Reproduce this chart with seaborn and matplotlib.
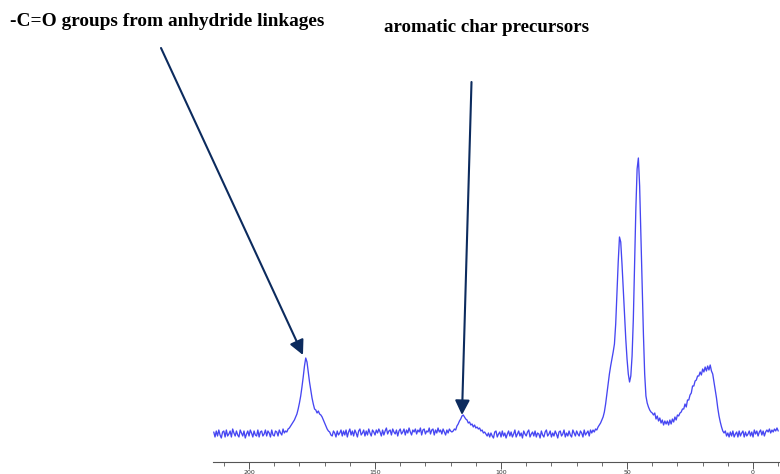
import numpy as np
import pandas as pd
import seaborn as sns
import matplotlib.pyplot as plt
from matplotlib.ticker import MultipleLocator

# 13C NMR spectrum, 0.5 ppm steps from 214 down to -10
ppm = np.arange(214, -10.5, -0.5)
intensity = [
    2, -3, 3, -2, 4, -1, -4, 2, 3, -3,             # 214-209.5
    4, -2, 0, 3, -3, 5, 1, -2, 3, -1,              # 209-204.5
    -3, 4, 1, -2, 3, -4, 0, 3, -2, 4,              # 204-199.5
    1, -3, 3, -1, -2, 4, -3, 2, 3, -2,             # 199-194.5
    0, 4, -2, 3, 1, -3, 4, -1, -2, 3,              # 194-189.5
    2, -2, 4, 1, -1, 5, 1, 3, 2, 5,                # 189-184.5
    6, 8, 10, 12, 14, 17, 20, 25, 31, 38,          # 184-179.5
    47, 57, 68, 76, 72, 62, 52, 44, 36, 30,        # 179-174.5
    25, 24, 21, 23, 20, 19, 17, 14, 11, 8,         # 174-169.5
    5, 3, 2, -1, -2, 3, 1, -3, 3, -1,              # 169-164.5
    1, 4, -2, 3, -1, 4, -3, 2, 5, -1,              # 164-159.5
    3, -2, 4, 1, -3, 3, 5, -1, 1, 4,               # 159-154.5
    -2, 3, -1, 5, 1, -2, 4, 2, -1, 4,              # 154-149.5
    1, 5, 2, -2, 4, -1, 3, 6, 0, 3,                # 149-144.5
    4, -1, 5, 2, 0, 4, -2, 3, 5, 0,                # 144-139.5
    2, 5, -1, 4, 1, 6, 2, -1, 4, 2,                # 139-134.5
    5, 0, 4, 2, 6, -1, 4, 5, 0, 3,                 # 134-129.5
    2, 6, 0, 4, 5, -1, 4, 1, 6, 2,                 # 129-124.5
    4, 0, 5, 2, -1, 4, 1, 5, 3, 2,                 # 124-119.5
    3, 5, 4, 8, 10, 13, 15, 18, 19, 17,            # 119-114.5
    15, 14, 11, 12, 9, 10, 7, 9, 6, 7,             # 114-109.5
    5, 6, 3, 4, 1, 2, 0, -2, 1, -3,                # 109-104.5
    1, -2, -4, 2, 3, -3, 0, 2, -3, 3,              # 104-99.5
    -2, 1, -4, 0, 3, -2, 2, -3, 0, 4,              # 99-94.5
    -3, 0, 3, -2, 1, -4, 3, 0, -2, 2,              # 94-89.5
    4, -3, 0, 2, -2, 3, -3, 1, 0, -4,              # 89-84.5
    3, -1, -3, 2, 4, -2, 0, 3, -3, 1,              # 84-79.5
    -2, 3, 0, -4, 2, 3, -2, 0, 4, -3,              # 79-74.5
    1, -2, 3, -1, -3, 4, 1, -2, 3, 0,              # 74-69.5
    -2, 3, 1, -3, 4, -1, 1, 3, -2, 4,              # 69-64.5
    1, 4, 2, 5, 4, 7, 9, 11, 14, 17,               # 64-59.5
    22, 30, 40, 50, 60, 68, 75, 82, 90, 110,       # 59-54.5
    140, 172, 197, 192, 170, 145, 120, 95, 75, 60, # 54-49.5
    52, 58, 78, 115, 170, 225, 265, 276, 248, 200, # 49-44.5
    150, 100, 60, 38, 31, 27, 24, 22, 21, 19,      # 44-39.5
    21, 15, 18, 13, 16, 11, 14, 9, 13, 10,         # 39-34.5
    13, 9, 14, 10, 15, 12, 17, 14, 19, 18,         # 34-29.5
    21, 22, 25, 25, 30, 27, 34, 34, 39, 41,        # 29-24.5
    48, 48, 53, 54, 58, 58, 62, 59, 65, 62,        # 24-19.5
    67, 63, 68, 64, 69, 63, 60, 52, 44, 36,        # 19-14.5
    26, 18, 12, 7, 3, 1, 3, -2, 1, -3,             # 14-9.5
    2, -2, 3, -3, 0, 2, -3, 3, -2, 1,              # 9-4.5
    3, -3, 2, -2, 0, 3, -2, 2, -3, 4,              # 4-(-0.5)
    0, 3, -2, 2, 4, -1, 3, -2, 2, 4,               # -1-(-5.5)
    2, 5, 1, 4, 2, 5, 3, 6, 3,                     # -6-(-10)
]

major_ticks = [200, 150, 100, 50, 0]

label_carbonyl = "-C=O groups from anhydride linkages"
label_aromatic = "aromatic char precursors"
carbonyl_tip = (178.6, 79)
aromatic_tip = (115.5, 19)

df = pd.DataFrame({"ppm": ppm, "intensity": intensity})

sns.set_style("white")
fig = plt.figure(figsize=(7.8, 4.74), dpi=100)
ax = fig.add_axes([213 / 780, 12 / 474, 567 / 780, 462 / 474])

sns.lineplot(data=df, x="ppm", y="intensity", ax=ax, color="#4646f2",
             lw=0.95, estimator=None)

ax.set_xlim(214.3, -10.7)
ax.set_ylim(-28, 434)
ax.set_xlabel("")
ax.set_ylabel("")
ax.set_yticks([])
for s in ["left", "right", "top"]:
    ax.spines[s].set_visible(False)
ax.spines["bottom"].set_color("#555555")
ax.spines["bottom"].set_linewidth(0.8)

ax.set_xticks(major_ticks)
ax.xaxis.set_minor_locator(MultipleLocator(10))
ax.tick_params(axis="x", which="major", direction="out", length=5, width=0.7,
               color="#555555", labelsize=4.5, pad=1, labelcolor="#333333")
ax.tick_params(axis="x", which="minor", direction="out", length=3, width=0.6,
               color="#555555")
ax.xaxis.set_ticks_position("bottom")

# labels and arrows
fig.text(10 / 780, 1 - 22 / 474, label_carbonyl, ha="left", va="center",
         fontfamily="Liberation Serif", fontweight="bold", fontsize=13.9,
         color="black")
fig.text(384 / 780, 1 - 27 / 474, label_aromatic, ha="left", va="center",
         fontfamily="Liberation Serif", fontweight="bold", fontsize=13.6,
         color="black")

arrow_props = dict(arrowstyle="-|>", color="#0c2b5e", lw=1.5,
                   mutation_scale=22, shrinkA=0, shrinkB=0)
ax.annotate("", xy=carbonyl_tip, xycoords="data",
            xytext=(161, 474 - 48), textcoords="figure pixels",
            arrowprops=arrow_props, annotation_clip=False)
ax.annotate("", xy=aromatic_tip, xycoords="data",
            xytext=(471.5, 474 - 82), textcoords="figure pixels",
            arrowprops=arrow_props, annotation_clip=False)

fig.savefig("out.png", dpi=100)
